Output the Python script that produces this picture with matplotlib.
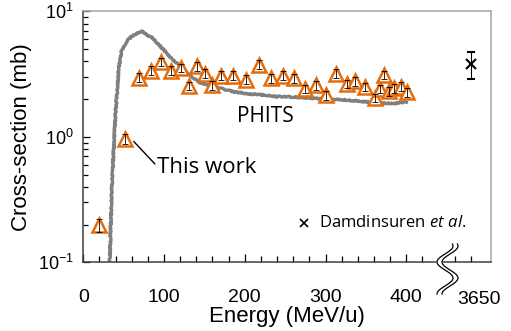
import numpy as np
import matplotlib.pyplot as plt
from matplotlib.lines import Line2D

plt.rcParams['font.family'] = ['Liberation Sans', 'DejaVu Sans']
plt.rcParams['mathtext.fontset'] = 'custom'
plt.rcParams['mathtext.it'] = 'Open Sans:italic'
plt.rcParams['mathtext.rm'] = 'Open Sans'
plt.rcParams['mathtext.default'] = 'regular'
plt.rcParams['axes.unicode_minus'] = False

# measured cross-sections (This work)
energy = [20, 52, 69, 84, 96, 109, 121, 131, 141, 151, 160, 170, 186, 202,
          218, 233, 247, 261, 275, 288, 300, 313, 326, 337, 349, 361, 368,
          372, 379, 385, 394, 401]
xsec = [0.198, 0.96, 2.96, 3.37, 3.96, 3.37, 3.54, 2.56, 3.65, 3.19, 2.59,
        3.08, 3.08, 2.86, 3.77, 2.95, 3.08, 2.95, 2.42, 2.59, 2.14, 3.19,
        2.64, 2.77, 2.50, 2.04, 2.41, 3.13, 2.30, 2.45, 2.52, 2.26]
xsec_err = [0.022, 0.09, 0.24, 0.27, 0.32, 0.27, 0.28, 0.2, 0.29, 0.26, 0.21,
            0.25, 0.25, 0.23, 0.3, 0.24, 0.25, 0.24, 0.19, 0.21, 0.17, 0.26,
            0.21, 0.22, 0.2, 0.16, 0.19, 0.25, 0.18, 0.2, 0.2, 0.18]

# PHITS calculation
phits_e = [32.5, 35.4, 39.5, 43.6, 47.7, 53.8, 60, 64, 72.4, 80.6, 85, 95,
           107, 120, 132, 144, 157, 169, 185, 202, 218, 239, 259, 280, 301,
           321, 342, 363, 383, 400]
phits_xs = [0.09, 0.40, 1.37, 3.44, 4.96, 5.78, 6.34, 6.55, 6.96, 6.34, 6.2,
            5.3, 4.39, 3.65, 3.08, 2.72, 2.56, 2.45, 2.30, 2.21, 2.17, 2.10,
            2.08, 2.04, 2.0, 1.98, 1.92, 1.88, 1.84, 1.9]

# Damdinsuren et al. at 3650 MeV/u (drawn past the axis break)
damd_e = 3650
damd_pos = 480
damd_xs = 3.84
damd_err = [[0.93], [0.95]]

fig = plt.figure(figsize=(5.11, 3.31), dpi=100)
ax = fig.add_axes([0.163, 0.2075, 0.798, 0.758])

line, = ax.plot(phits_e, phits_xs, color='#808080', lw=2.4, zorder=2,
                solid_joinstyle='round')
line.set_sketch_params(scale=0.6, length=1.5, randomness=6)

ax.plot(energy, xsec, linestyle='none', marker='^', markersize=10,
        markerfacecolor='white', markeredgecolor='#E46C0A',
        markeredgewidth=1.8, zorder=3)
ax.errorbar(energy, xsec, yerr=xsec_err, fmt='none', ecolor='black',
            elinewidth=0.6, capsize=2.0, capthick=0.6, zorder=4)

ax.errorbar([damd_pos], [damd_xs], yerr=damd_err, fmt='x', color='black',
            markersize=7, markeredgewidth=1.5, elinewidth=0.8, capsize=3,
            capthick=0.8)

ax.set_yscale('log')
ax.set_ylim(0.1, 10)
ax.set_xlim(0, 505)

ax.set_xticks([0, 100, 200, 300, 400])
ax.set_xticks([v for v in range(20, 500, 20) if v % 100], minor=True)
ax.tick_params(axis='x', which='major', direction='in', length=6, width=0.9,
               labelsize=14, pad=19)
ax.tick_params(axis='x', which='minor', direction='in', length=4, width=0.9)
ax.tick_params(axis='y', which='major', direction='in', length=5, width=0.9,
               labelsize=13, pad=7)
ax.tick_params(axis='y', which='minor', direction='in', length=3.5, width=0.9)
ax.text(490, -0.115, str(damd_e), transform=ax.get_xaxis_transform(),
        ha='center', va='top', fontsize=14)

for s in ['left', 'bottom']:
    ax.spines[s].set_color('#404040')
    ax.spines[s].set_linewidth(1.1)
for s in ['top', 'right']:
    ax.spines[s].set_color('#a6a6a6')
    ax.spines[s].set_linewidth(1.1)

ax.set_xlabel('Energy (MeV/u)', fontsize=16, labelpad=0)
ax.set_ylabel('Cross-section (mb)', fontsize=16, labelpad=4)

ax.text(225, 1.45, 'PHITS', fontsize=15, family='Open Sans',
        ha='center', va='center')
ax.plot([62.6, 88.5], [0.917, 0.61], color='black', lw=1.0)
ax.text(91, 0.565, 'This work', fontsize=16, family='Open Sans',
        ha='left', va='center')
ax.plot([273.7], [0.206], marker='x', color='black', markersize=6,
        markeredgewidth=1.2, linestyle='none')
ax.text(292, 0.206, r'Damdinsuren $\mathit{et\ al.}$', fontsize=12,
        family='Open Sans', ha='left', va='center')

# axis break marks
yy = np.linspace(244, 294, 60)
xx = 445 - 8 * np.sin(2 * np.pi * (yy - 254) / 32)
fx = lambda x: x / 511
fy = lambda y: (331 - y) / 331
fig.add_artist(Line2D(fx(xx + 2.5), fy(yy), color='white', lw=4.5,
                      transform=fig.transFigure))
for off in (0, 5):
    fig.add_artist(Line2D(fx(xx + off), fy(yy), color='black', lw=0.9,
                          transform=fig.transFigure))

fig.savefig('out.png', dpi=100)
